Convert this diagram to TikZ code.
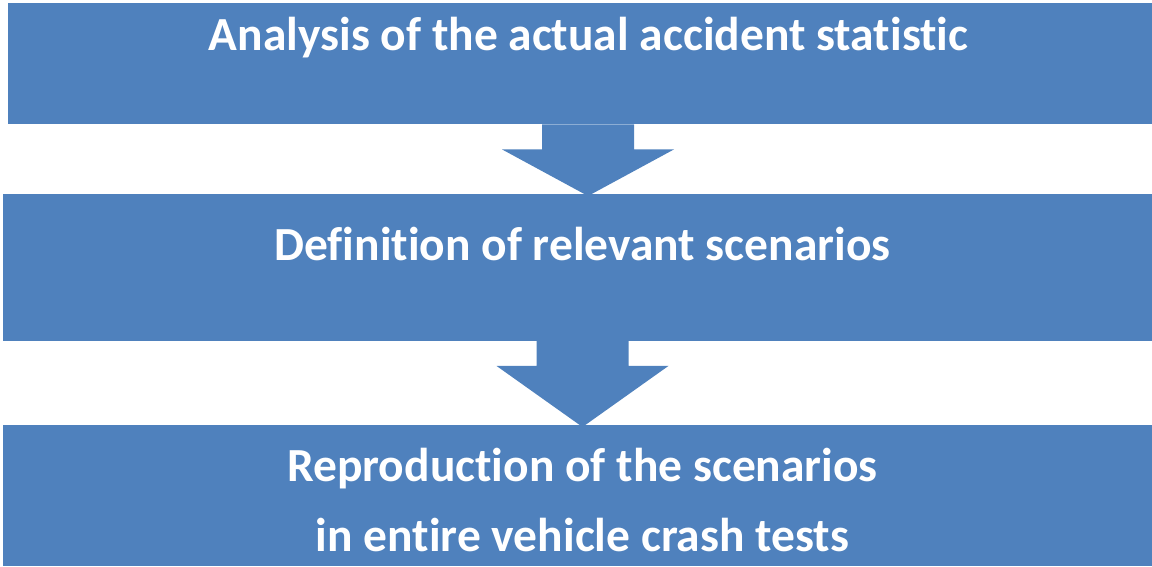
\documentclass[tikz,border=0pt]{standalone}
\usepackage{fontspec}
\setmainfont{Carlito}[Ligatures=NoCommon]
\usepackage{tikz}
\usetikzlibrary{calc}
\definecolor{boxblue}{HTML}{4F81BD}

% block arrow from the bottom of one box to the top of the next
\newcommand{\flowarrow}[3]{%
  \coordinate (s) at (#3,0 |- #1.south);
  \coordinate (t) at (#3,0 |- #2.north);
  \fill[boxblue]
    ([xshift=-46pt]s) -- ([xshift=46pt]s) -- ([xshift=46pt,yshift=-25pt]s)
    -- ([xshift=86pt,yshift=-25pt]s) -- ([yshift=-2pt]t)
    -- ([xshift=-86pt,yshift=-25pt]s) -- ([xshift=-46pt,yshift=-25pt]s) -- cycle;
}

\tikzset{
  stepbox/.style={fill=boxblue, inner sep=0pt, anchor=north west},
  steptext/.style={text=white, font=\bfseries\fontsize{47.5}{70}\selectfont, anchor=base, align=center}
}

\begin{document}
\begin{tikzpicture}[x=1pt, y=-1pt]
  \useasboundingbox (0,0) rectangle (1152,566);

  \node[stepbox, minimum width=1144pt, minimum height=121pt] (analysis) at (8,3) {};
  \node[stepbox, minimum width=1149pt, minimum height=146.5pt] (scenarios) at (3,194) {};
  \node[stepbox, minimum width=1149pt, minimum height=141pt] (crash) at (3,425) {};

  \flowarrow{analysis}{scenarios}{588}
  \flowarrow{scenarios}{crash}{582.5}

  \node[steptext] (analysisText) at (588.5,50) {Analysis of the actual accident statistic};
  \node[steptext] (scenariosText) at (582.5,260) {Definition of relevant scenarios};
  % two lines: base sits on the second line
  \node[steptext] (crashText) at (582.5,551) {Reproduction of the scenarios\\in entire vehicle crash tests};
\end{tikzpicture}
\end{document}
